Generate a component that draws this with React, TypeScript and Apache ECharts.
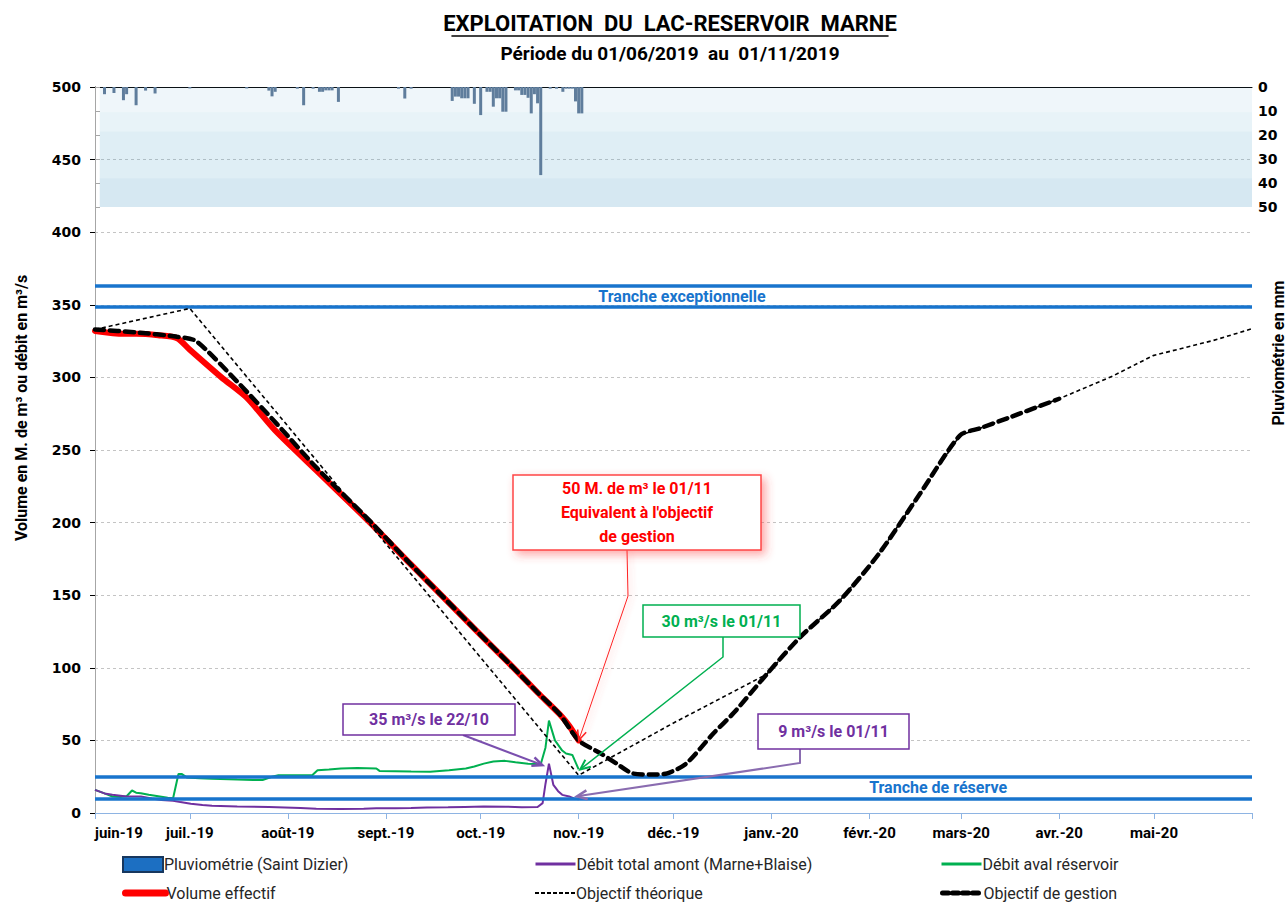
import React, { useEffect, useRef } from "react";
import * as echarts from "echarts";

// ---------- DATA (x = days since 01/06/2019) ----------
const MONTH_DAYS = [0, 30, 61, 92, 122, 153, 183, 214, 245, 274, 305, 335];
const MONTH_LABELS = [
  "juin-19", "juil.-19", "août-19", "sept.-19", "oct.-19", "nov.-19",
  "déc.-19", "janv.-20", "févr.-20", "mars-20", "avr.-20", "mai-20",
];
const TICK_DAYS = [0, 30, 61, 92, 122, 153, 183, 214, 245, 274, 305, 335, 366];
const RAIN_TICKS = [0, 10, 20, 30, 40, 50];
const TRANCHES = [363, 348.5, 25, 10];
const RAIN_BANDS = [
  [0, 10.5],
  [10.5, 18.5],
  [18.5, 38],
  [38, 50],
];

// Pluviométrie (mm) — [day, mm]
const RAIN: [number, number][] = [
  [3, 3], [6, 2.5], [9, 5.5], [10, 3], [13, 7.6], [16, 1.5], [19, 2.7], [30, 0.6],
  [48, 0.6], [55, 1.5], [56, 3.9], [57, 2], [64, 0.7], [66, 7.6], [69, 0.7],
  [71, 2], [72, 2], [73, 1.4], [74, 1.4], [75, 1.4], [77, 6.2], [96, 0.7],
  [98, 4.8], [100, 0.7], [113, 5.8], [114, 4], [115, 4], [116, 4.7], [117, 4.7],
  [118, 4.7], [120, 7], [122, 11.7], [124, 2], [125, 2], [126, 8.2], [127, 4.7],
  [128, 4.7], [129, 10.3], [130, 10.3], [133, 1.4], [134, 1.4], [135, 3.3],
  [136, 3.3], [137, 4.5], [138, 11], [139, 3], [140, 6.8], [141, 36.7],
  [144, 0.7], [146, 0.7], [148, 2], [149, 0.7], [150, 0.7], [151, 0.7],
  [152, 6], [153, 11], [154, 11],
];

// Volume effectif (M. m3)
const VOLUME: [number, number][] = [
  [0, 332], [9, 330], [13, 330], [20, 329], [26, 327], [30, 319], [40, 300],
  [48, 286], [57, 263.5], [70, 236], [87, 200], [100, 171], [110, 149],
  [120, 127], [131, 103], [140, 83], [147, 68], [150, 60], [153, 50],
];

// Objectif théorique
const OBJ_THEO: [number, number][] = [
  [0, 333], [30, 347.5], [153, 26], [183, 62], [212.5, 95.6], [223, 121],
  [235.7, 146.5], [248, 178.6], [261, 220], [273.6, 260], [280, 265],
  [290, 273], [305, 285.3], [322, 301], [334.7, 315], [353.7, 325.4], [366, 333.5],
];

// Objectif de gestion
const OBJ_GEST: [number, number][] = [
  [0, 333], [13, 331], [26, 328], [32, 325], [45, 297], [57.5, 268], [70, 238],
  [87, 201], [100, 171], [110, 149], [120, 127], [131, 103], [140, 83],
  [147, 68], [153, 50], [160, 41], [165, 34], [170, 27.3], [176, 26.5],
  [181, 27.3], [187, 34], [195.6, 54.8], [202, 68.8], [212.5, 95.6], [223, 121],
  [235.7, 146.5], [248, 178.6], [261, 220], [273.6, 260], [280, 265],
  [290, 273], [305, 285.3],
];

// Débit total amont (Marne+Blaise) m3/s
const DEBIT_AMONT: [number, number][] = [
  [0, 15.9], [3, 13.5], [5.5, 12.5], [10, 11.4], [14.5, 11.4], [18, 10], [21, 9],
  [24.7, 8.4], [27, 7.5], [30.3, 6.4], [34, 5.5], [37, 5], [45, 4.5], [55, 4.1],
  [65, 3.5], [70, 3], [77.8, 2.7], [85, 3], [89, 3.2], [95, 3.3], [100, 3.5],
  [105, 3.8], [111.7, 3.9], [117, 4.2], [123, 4.5], [130, 4.3], [135, 4],
  [140, 4.1], [141.6, 6.8], [142.5, 20], [143.6, 34], [145, 19.3], [146.5, 15],
  [147.8, 12.5], [150, 11.4], [151.5, 10], [153, 9.5],
];

// Débit aval réservoir m3/s
const DEBIT_AVAL: [number, number][] = [
  [0, 15.9], [3, 13.5], [5.5, 11.4], [8, 11], [10, 11.5], [11.7, 15.5], [13, 14],
  [14.5, 13.6], [17, 12.5], [20, 11.5], [23, 10.5], [24.7, 10.2], [26.4, 26.8],
  [27.5, 26.8], [29, 24.5], [33, 24], [37, 23.6], [45, 23], [50, 22.7], [53, 22.7],
  [56, 25], [58, 26], [63, 26], [68.7, 26], [70.4, 29.5], [74, 30], [77.8, 30.7],
  [83, 31], [89, 30.7], [90, 29], [95, 28.8], [100, 28.6], [106, 28.4],
  [112, 29.5], [117.3, 30.7], [120, 32], [123, 34], [126, 35.5], [129.7, 35.9],
  [133, 35], [137, 34], [141, 33.6], [142.5, 45], [143.6, 63.6], [145.5, 50],
  [147.8, 43], [149, 41], [151, 40], [152, 35], [153, 30],
];

const S_RAIN = "Pluviométrie (Saint Dizier)";
const S_AMONT = "Débit total amont (Marne+Blaise)";
const S_AVAL = "Débit aval réservoir";
const S_VOL = "Volume effectif";
const S_THEO = "Objectif théorique";
const S_GEST = "Objectif de gestion";

// ---------- STYLE ----------
const FONT = "Roboto, 'Open Sans', sans-serif";
const NUM_FONT = "'DejaVu Sans', Verdana, sans-serif";
const BLUE = "#1874cd";

type Annot = {
  lines: string[];
  color: string;
  border: string;
  box: [number, number, number, number];
  leader: [number, number][];
  tip: [number, number];
  leaderColor: string;
  leaderWidth: number;
  glow?: boolean;
};

const ANNOTS: Annot[] = [
  {
    lines: ["50 M. de m³ le 01/11", "Equivalent à l'objectif", "de gestion"],
    color: "#ff0000", border: "#ff4545", box: [513, 475, 248, 75],
    leader: [[627, 550], [628, 596]], tip: [153, 50], leaderColor: "#ff2020", leaderWidth: 1, glow: true,
  },
  {
    lines: ["30 m³/s le 01/11"], color: "#00b050", border: "#00b050", box: [643, 605, 157, 32],
    leader: [[723, 637], [723, 657]], tip: [153.5, 30], leaderColor: "#00b050", leaderWidth: 1.5,
  },
  {
    lines: ["35 m³/s le 22/10"], color: "#7030a0", border: "#7030a0", box: [343, 704, 172, 31],
    leader: [[463, 735]], tip: [141.5, 33], leaderColor: "#7a4fae", leaderWidth: 2,
  },
  {
    lines: ["9 m³/s le 01/11"], color: "#7030a0", border: "#7030a0", box: [758, 714, 151, 35],
    leader: [[800, 749], [800, 763]], tip: [152.5, 11.5], leaderColor: "#8a6cb0", leaderWidth: 2,
  },
];

// legend icon line styles (in the reference legend)
const LEGEND_LINE: Record<string, any> = {
  [S_AMONT]: { width: 3 },
  [S_AVAL]: { width: 3 },
  [S_VOL]: { width: 7, cap: "round" },
  [S_THEO]: { width: 2, type: [4, 2] },
  [S_GEST]: { width: 5, type: [6, 4] },
};

function arrowHead(from: number[], tip: number[], color: string, width: number) {
  const ang = Math.atan2(tip[1] - from[1], tip[0] - from[0]);
  const len = 11;
  const a1 = ang + Math.PI - 0.42;
  const a2 = ang + Math.PI + 0.42;
  return {
    type: "polyline",
    z: 120,
    shape: {
      points: [
        [tip[0] + len * Math.cos(a1), tip[1] + len * Math.sin(a1)],
        [tip[0], tip[1]],
        [tip[0] + len * Math.cos(a2), tip[1] + len * Math.sin(a2)],
      ],
    },
    style: { stroke: color, lineWidth: width, fill: null },
  };
}

function measure(text: string, font: string) {
  const c = document.createElement("canvas").getContext("2d");
  if (!c) return text.length * 11;
  c.font = font;
  return c.measureText(text).width;
}

export default function App() {
  const ref = useRef<HTMLDivElement>(null);

  useEffect(() => {
    if (!ref.current) return;
    const chart = echarts.init(ref.current, null, { renderer: "svg" });

    const lineSeries = (name: string, data: [number, number][], style: any, z: number, extra: any = {}) => ({
      name,
      type: "line",
      data,
      xAxisIndex: 0,
      yAxisIndex: 0,
      symbol: "none",
      showSymbol: false,
      lineStyle: style,
      itemStyle: { color: style.color },
      z,
      silent: true,
      ...extra,
    });

    const legendPos = [
      [S_RAIN, 117, 851], [S_AMONT, 529, 851], [S_AVAL, 935, 851],
      [S_VOL, 117, 880], [S_THEO, 529, 880], [S_GEST, 935, 880],
    ];

    const option: any = {
      animation: false,
      backgroundColor: "#ffffff",
      grid: { left: 95, right: 36, top: 87, bottom: 91, containLabel: false },
      legend: legendPos.map(([name, left, top]) => ({
        data: [
          name === S_RAIN
            ? { name, icon: "rect", itemStyle: { color: "#1c6fc2", borderColor: "#17375e", borderWidth: 2 } }
            : { name, itemStyle: { opacity: 0 }, lineStyle: LEGEND_LINE[name as string] },
        ],
        left,
        top,
        itemWidth: 40,
        itemHeight: 15,
        itemGap: 0,
        selectedMode: false,
        textStyle: { fontFamily: FONT, fontSize: 16, color: "#262626", padding: [0, 0, 0, -4] },
      })),
      xAxis: [
        {
          type: "value",
          min: 0,
          max: 366,
          position: "bottom",
          axisLine: { show: true, onZero: false, lineStyle: { color: "#8eb4e3", width: 1 } },
          axisTick: { show: true, customValues: TICK_DAYS, length: 6, lineStyle: { color: "#8eb4e3" } },
          axisLabel: {
            customValues: MONTH_DAYS,
            formatter: (v: number) => MONTH_LABELS[MONTH_DAYS.indexOf(v)] ?? "",
            fontFamily: FONT,
            fontWeight: "bold",
            fontSize: 15,
            color: "#000",
            margin: 12,
            alignMinLabel: "left",
          },
          splitLine: { show: false },
        },
        {
          type: "value",
          min: 0,
          max: 366,
          position: "top",
          axisLine: { show: true, onZero: false, lineStyle: { color: "#000", width: 1 } },
          axisTick: { show: false },
          axisLabel: { show: false },
          splitLine: { show: false },
        },
      ],
      yAxis: [
        {
          type: "value",
          min: 0,
          max: 500,
          interval: 50,
          position: "left",
          axisLine: { show: true, lineStyle: { color: "#000", width: 1 } },
          axisTick: { show: true, length: 5, lineStyle: { color: "#000" } },
          axisLabel: { fontFamily: NUM_FONT, fontWeight: "bold", fontSize: 14, color: "#000", margin: 14 },
          splitLine: { show: true, lineStyle: { color: "#c4c4c4", type: [3, 3], width: 1 } },
        },
        {
          type: "value",
          inverse: true,
          min: 0,
          max: 302.5,
          position: "right",
          axisLine: { show: true, lineStyle: { color: "#a6a6a6", width: 1 } },
          axisTick: { show: true, customValues: RAIN_TICKS, length: 5, lineStyle: { color: "#a6a6a6" } },
          axisLabel: {
            customValues: RAIN_TICKS,
            fontFamily: NUM_FONT,
            fontWeight: "bold",
            fontSize: 14,
            color: "#000",
            margin: 6,
          },
          splitLine: { show: false },
        },
      ],
      series: [
        {
          name: S_RAIN,
          type: "bar",
          xAxisIndex: 0,
          yAxisIndex: 1,
          data: RAIN,
          barWidth: 3,
          itemStyle: { color: "#5f7d9c" },
          z: 2,
          silent: true,
          markArea: {
            silent: true,
            data: RAIN_BANDS.map((b, i) => [
              { xAxis: 1.5, yAxis: b[0], itemStyle: { color: `rgba(95,168,205,${[0.1, 0.14, 0.2, 0.26][i]})` } },
              { xAxis: 366, yAxis: b[1] },
            ]),
          },
        },
        lineSeries(S_AVAL, DEBIT_AVAL, { color: "#00b050", width: 2 }, 3, {
          markLine: {
            silent: true,
            symbol: ["none", "none"],
            label: { show: false },
            lineStyle: { color: BLUE, width: 3.5, type: "solid" },
            data: TRANCHES.map((v) => ({ yAxis: v })),
          },
        }),
        lineSeries(S_AMONT, DEBIT_AMONT, { color: "#7030a0", width: 2 }, 3),
        lineSeries(S_VOL, VOLUME, { color: "#ff0000", width: 6, cap: "round", join: "round" }, 4, { smooth: 0.25 }),
        lineSeries(S_GEST, OBJ_GEST, { color: "#000000", width: 4.5, type: [9, 6], cap: "round" }, 5, { smooth: 0.25 }),
        lineSeries(S_THEO, OBJ_THEO, { color: "#000000", width: 1.6, type: [4, 3] }, 6),
      ],
    };

    chart.setOption(option);

    const toPx = (d: [number, number]) =>
      chart.convertToPixel({ xAxisIndex: 0, yAxisIndex: 0 }, d) as number[];

    const graphics: any[] = [];

    // Title
    const titleText = "EXPLOITATION  DU  LAC-RESERVOIR  MARNE";
    const titleFont = `bold 22px ${FONT}`;
    const tw = measure(titleText.replace(/\s+/g, " "), titleFont);
    graphics.push({
      type: "text", x: 670, y: 23, z: 100,
      style: { text: titleText, font: titleFont, fill: "#000", align: "center", verticalAlign: "middle" },
    });
    graphics.push({
      type: "line", z: 100,
      shape: { x1: 670 - tw / 2, y1: 36, x2: 670 + tw / 2, y2: 36 },
      style: { stroke: "#000", lineWidth: 1.5 },
    });
    graphics.push({
      type: "text", x: 670, y: 53, z: 100,
      style: { text: "Période du 01/06/2019  au  01/11/2019", font: `bold 19px ${FONT}`, fill: "#000", align: "center", verticalAlign: "middle" },
    });

    // Axis names
    graphics.push({
      type: "text", x: 21, y: 408, rotation: Math.PI / 2, z: 100,
      style: { text: "Volume en M. de m³ ou débit en m³/s", font: `bold 16px ${FONT}`, fill: "#000", align: "center", verticalAlign: "middle" },
    });
    graphics.push({
      type: "text", x: 1278, y: 353, rotation: Math.PI / 2, z: 100,
      style: { text: "Pluviométrie en mm", font: `bold 16px ${FONT}`, fill: "#000", align: "center", verticalAlign: "middle" },
    });

    // Tranche labels
    const pExc = toPx([185.7, (TRANCHES[0] + TRANCHES[1]) / 2]);
    graphics.push({
      type: "text", x: pExc[0], y: pExc[1], z: 100,
      style: { text: "Tranche exceptionnelle", font: `bold 16px ${FONT}`, fill: BLUE, align: "center", verticalAlign: "middle" },
    });
    const pRes = toPx([266.7, (TRANCHES[2] + TRANCHES[3]) / 2]);
    graphics.push({
      type: "text", x: pRes[0], y: pRes[1], z: 100,
      style: { text: "Tranche de réserve", font: `bold 16px ${FONT}`, fill: BLUE, align: "center", verticalAlign: "middle" },
    });

    // Annotations
    ANNOTS.forEach((a) => {
      const [bx, by, bw, bh] = a.box;
      const tip = toPx(a.tip);
      const pts = [...a.leader, tip];
      graphics.push({
        type: "polyline", z: 110,
        shape: { points: pts },
        style: {
          stroke: a.leaderColor, lineWidth: a.leaderWidth, fill: null,
          ...(a.glow ? { shadowBlur: 6, shadowColor: "rgba(255,80,80,0.45)", shadowOffsetX: 2, shadowOffsetY: 2 } : {}),
        },
      });
      graphics.push(arrowHead(pts[pts.length - 2], tip, a.leaderColor, a.leaderWidth + 0.5));
      graphics.push({
        type: "rect", z: 115,
        shape: { x: bx, y: by, width: bw, height: bh },
        style: {
          fill: "#ffffff", stroke: a.border, lineWidth: 1.5,
          ...(a.glow ? { shadowBlur: 10, shadowColor: "rgba(255,60,60,0.45)", shadowOffsetX: 4, shadowOffsetY: 4 } : {}),
        },
      });
      const lh = 24;
      const cy0 = by + bh / 2 - ((a.lines.length - 1) * lh) / 2;
      a.lines.forEach((t, i) => {
        graphics.push({
          type: "text", z: 120, x: bx + bw / 2, y: cy0 + i * lh,
          style: { text: t, font: `bold 16px ${FONT}`, fill: a.color, align: "center", verticalAlign: "middle" },
        });
      });
    });

    chart.setOption({ graphic: graphics });

    return () => chart.dispose();
  }, []);

  return (
    <div
      ref={ref}
      style={{ position: "absolute", left: 0, top: 0, width: 1288, height: 904, background: "#fff" }}
    />
  );
}
